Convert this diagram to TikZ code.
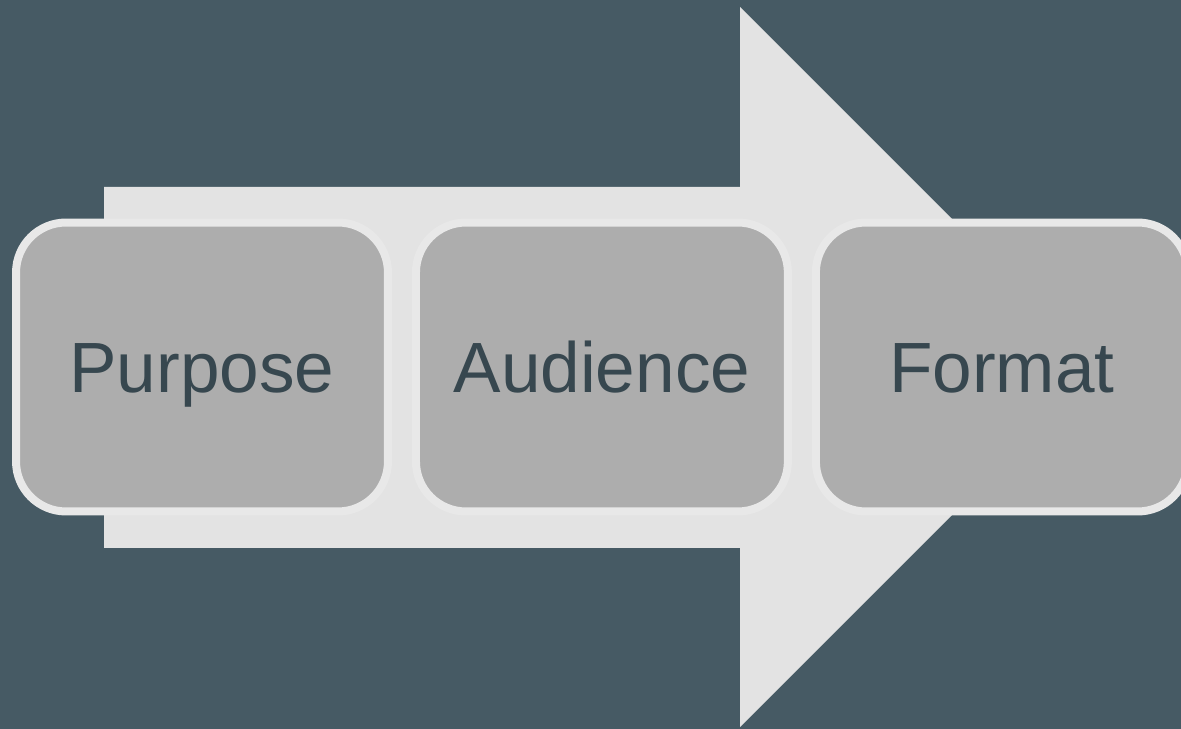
\documentclass[tikz,border=0pt]{standalone}
\usepackage{fontspec}
\setmainfont{Liberation Sans}
\usetikzlibrary{positioning,shadows}

\definecolor{slatebg}{HTML}{465A64}
\definecolor{arrowgray}{HTML}{E3E3E3}
\definecolor{boxgray}{HTML}{ADADAD}
\definecolor{boxrim}{HTML}{E8E8E8}
\definecolor{slatetext}{HTML}{37474F}

\tikzset{
  stagebox/.style={draw=boxrim, fill=boxgray, line width=0.16cm,
    rounded corners=1cm, minimum width=7.44cm, minimum height=5.78cm,
    text=slatetext, font=\fontsize{40.5}{48}\selectfont,
    text height=29pt, text depth=0pt,
    drop shadow={shadow xshift=0cm, shadow yshift=-0.06cm, opacity=0.35, fill=black}},
}

\begin{document}
\begin{tikzpicture}[x=0.02cm,y=-0.02cm, node distance=0.4cm]
\fill[slatebg] (0,0) rectangle (1181,729);
\useasboundingbox (0,0) rectangle (1181,729);

% big arrow behind the stages
\fill[arrowgray] (104,187) -- (740,187) -- (740,7) -- (1100,367)
  -- (740,727) -- (740,548) -- (104,548) -- cycle;

\node[stagebox] (purpose) at (202,367) {Purpose};
\node[stagebox, right=of purpose] (audience) {Audience};
\node[stagebox, right=of audience] (format) {Format};
\end{tikzpicture}
\end{document}
